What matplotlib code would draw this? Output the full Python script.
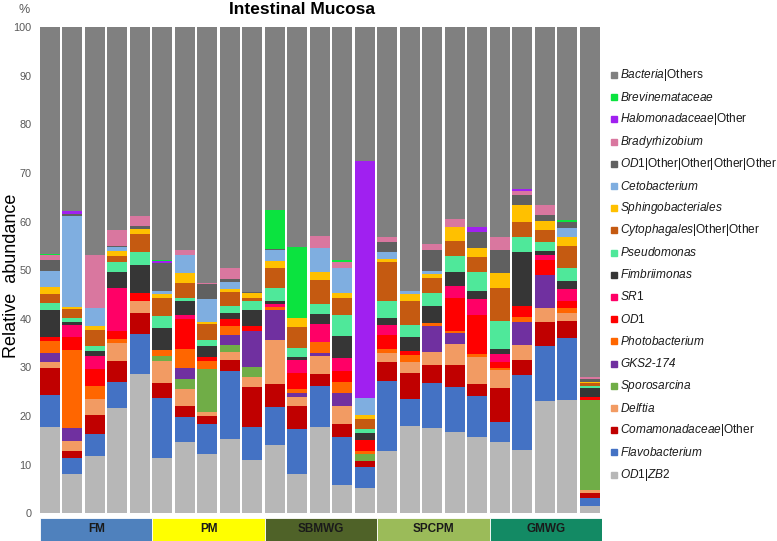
import numpy as np
import matplotlib
matplotlib.use("Agg")
import matplotlib.pyplot as plt
from matplotlib.patches import Rectangle

plt.rcParams["font.family"] = ["Liberation Sans", "DejaVu Sans"]
plt.rcParams["mathtext.fontset"] = "custom"
plt.rcParams["mathtext.rm"] = "Liberation Sans"
plt.rcParams["mathtext.it"] = "Liberation Sans:italic"

# groups of samples (5 per diet)
groups = ["FM", "PM", "SBMWG", "SPCPM", "GMWG"]
group_colors = ["#4F81BD", "#FFFF00", "#4F6228", "#9BBB59", "#138A64"]

# relative abundance (%) per sample, stacked from bottom to top
od1_zb2 = [17.7, 8.0, 11.7, 21.7, 28.7, 11.4, 14.7, 12.2, 15.3, 11.0, 14.0, 8.0, 17.7, 5.8, 5.2,
           12.9, 18.0, 17.6, 16.7, 15.7, 14.6, 13.1, 23.1, 23.4, 1.4]
flavobacterium = [6.7, 3.4, 4.6, 5.4, 8.2, 12.3, 5.1, 6.2, 13.9, 6.8, 7.8, 9.4, 8.5, 9.8, 4.4,
                  14.3, 5.5, 9.3, 9.2, 8.4, 4.2, 15.3, 11.4, 12.6, 1.8]
comamonadaceae = [5.4, 1.5, 3.9, 4.2, 4.3, 3.1, 2.3, 1.6, 2.4, 8.1, 4.9, 4.7, 2.4, 2.7, 1.1,
                  4.0, 5.4, 3.7, 4.7, 2.6, 6.9, 3.2, 4.9, 3.6, 0.9]
delftia = [1.4, 2.0, 3.3, 3.8, 2.4, 4.5, 3.4, 0.8, 1.6, 2.2, 9.0, 1.9, 3.7, 3.7, 0.0,
           1.8, 2.2, 2.6, 4.3, 5.4, 3.7, 3.0, 2.9, 1.7, 0.6]
sporosarcina = [0.0, 0.0, 0.0, 0.0, 0.0, 1.0, 2.1, 8.8, 1.4, 2.0, 0.0, 0.0, 0.0, 0.0, 1.5,
                0.0, 0.0, 0.0, 0.0, 0.0, 0.0, 0.0, 0.0, 0.0, 18.7]
gks2_174 = [1.7, 2.7, 0.0, 0.0, 0.0, 0.0, 2.2, 0.0, 2.1, 7.4, 6.2, 0.7, 0.6, 2.8, 0.0,
            0.0, 0.0, 5.3, 2.1, 0.0, 0.0, 4.7, 6.8, 0.0, 0.0]
photobacterium = [2.6, 16.0, 2.7, 0.8, 0.0, 1.3, 4.1, 1.7, 1.8, 0.0, 0.5, 0.8, 2.4, 2.3, 0.7,
                  0.9, 1.5, 0.7, 0.6, 0.7, 0.4, 1.1, 0.0, 1.0, 0.0]
od1 = [0.7, 2.6, 3.4, 1.6, 1.7, 0.0, 6.0, 0.8, 1.4, 1.1, 0.0, 3.3, 0.0, 2.1, 2.1,
       2.7, 0.7, 0.0, 6.8, 8.1, 1.4, 2.3, 3.1, 1.3, 0.6]
sr1 = [0.0, 2.5, 2.7, 8.8, 0.0, 0.0, 0.8, 0.0, 0.0, 0.0, 0.7, 2.8, 3.6, 2.7, 0.0,
       2.1, 0.0, 0.0, 2.4, 3.1, 1.6, 0.0, 0.9, 2.5, 0.0]
fimbriimonas = [5.7, 0.7, 1.0, 3.4, 5.7, 4.6, 2.9, 2.4, 1.3, 3.3, 0.6, 0.6, 2.1, 4.6, 1.6,
                1.5, 3.0, 3.4, 2.9, 1.8, 1.0, 11.0, 0.8, 1.6, 1.7]
pseudomonas = [1.4, 0.8, 1.2, 2.0, 2.8, 2.4, 0.8, 1.2, 1.5, 1.7, 2.7, 1.8, 2.0, 4.4, 0.7,
               3.5, 2.4, 2.7, 3.2, 3.9, 5.8, 3.1, 1.9, 2.8, 0.4]
cytophagales = [1.8, 1.9, 3.3, 1.2, 3.6, 3.8, 2.9, 3.2, 2.9, 0.7, 4.0, 4.3, 5.0, 3.5, 2.2,
                8.0, 4.9, 3.2, 3.2, 3.1, 6.8, 3.1, 2.4, 4.6, 0.7]
sphingobacteriales = [1.5, 0.3, 0.7, 1.0, 1.0, 0.7, 2.1, 0.5, 0.5, 1.0, 1.6, 1.9, 1.7, 0.9, 0.8,
                      0.7, 1.5, 0.8, 2.8, 1.7, 3.0, 3.6, 2.0, 1.8, 0.3]
cetobacterium = [3.2, 18.7, 3.7, 0.8, 0.0, 0.7, 3.8, 4.7, 1.4, 0.0, 2.1, 0.0, 4.8, 5.1, 3.5,
                 1.3, 0.7, 0.6, 0.0, 0.0, 0.0, 0.0, 0.0, 1.9, 0.0]
od1_other = [2.4, 0.4, 0.0, 0.2, 0.7, 5.6, 0.0, 3.0, 0.8, 0.3, 0.3, 0.0, 0.0, 0.0, 0.0,
             2.2, 0.0, 4.2, 0.0, 3.4, 4.7, 1.9, 1.1, 1.1, 0.6]
bradyrhizobium = [0.9, 0.0, 11.0, 3.3, 2.1, 0.0, 1.0, 0.3, 2.2, 0.0, 0.0, 0.0, 2.6, 1.4, 0.0,
                  1.0, 0.0, 1.3, 1.6, 0.0, 2.8, 1.0, 2.2, 0.0, 0.4]
halomonadaceae = [0.0, 0.6, 0.0, 0.0, 0.0, 0.6, 0.0, 0.0, 0.0, 0.0, 0.0, 0.0, 0.0, 0.0, 48.6,
                  0.0, 0.0, 0.0, 0.0, 1.0, 0.0, 0.4, 0.0, 0.0, 0.0]
brevinemataceae = [0.2, 0.0, 0.0, 0.0, 0.0, 0.2, 0.0, 0.0, 0.0, 0.0, 8.1, 14.5, 0.0, 0.3, 0.0,
                   0.0, 0.0, 0.0, 0.0, 0.0, 0.0, 0.0, 0.0, 0.4, 0.0]

series = [
    (od1_zb2, r"$\it{OD1|ZB2}$", "#B7B7B7"),
    (flavobacterium, r"$\it{Flavobacterium}$", "#4472C4"),
    (comamonadaceae, r"$\it{Comamonadaceae}$|Other", "#C00000"),
    (delftia, r"$\it{Delftia}$", "#F29B63"),
    (sporosarcina, r"$\it{Sporosarcina}$", "#70AD47"),
    (gks2_174, "GKS2-174", "#7030A0"),
    (photobacterium, r"$\it{Photobacterium}$", "#FF6600"),
    (od1, r"$\it{OD1}$", "#FF0000"),
    (sr1, r"$\it{SR1}$", "#FF0066"),
    (fimbriimonas, r"$\it{Fimbriimonas}$", "#363636"),
    (pseudomonas, r"$\it{Pseudomonas}$", "#4FE89A"),
    (cytophagales, r"$\it{Cytophagales}$|Other|Other", "#C55A11"),
    (sphingobacteriales, r"$\it{Sphingobacteriales}$", "#FFC000"),
    (cetobacterium, r"$\it{Cetobacterium}$", "#7FAEE0"),
    (od1_other, r"$\it{OD1}$|Other|Other|Other|Other", "#606060"),
    (bradyrhizobium, r"$\it{Bradyrhizobium}$", "#D9779F"),
    (halomonadaceae, r"$\it{Halomonadaceae}$|Other", "#A020F0"),
    (brevinemataceae, r"$\it{Brevinemataceae}$", "#0BE33F"),
]

values = np.array([s[0] for s in series])
bacteria_others = 100 - values.sum(axis=0)
series.append((list(bacteria_others), r"$\it{Bacteria}$|Others", "#808080"))

W, H = 777, 541
fig = plt.figure(figsize=(W / 100, H / 100), dpi=100)
ax = fig.add_axes([40 / W, 1 - 513.3 / H, 562 / W, (513.3 - 27.3) / H])

x = np.arange(len(od1_zb2))
bottom = np.zeros(len(x))
for vals, label, color in series:
    vals = np.asarray(vals, dtype=float)
    ax.bar(x, vals, bottom=bottom, width=0.89, color=color, linewidth=0)
    bottom += vals

ax.set_xlim(-0.445, len(x) - 0.445)
ax.set_ylim(0, 100)
ax.set_yticks(np.arange(0, 101, 10))
ax.set_xticks([])
ax.tick_params(axis="y", length=0, pad=6, labelsize=7.8, labelcolor="#595959")
for side in ax.spines.values():
    side.set_visible(False)

fig.text(24 / W, 1 - 10 / H, "%", fontsize=9, color="#595959", ha="center", va="center")
fig.text(12 / W, 1 - 276 / H, "Relative  abundance", rotation=90, fontsize=13,
         ha="center", va="center")
fig.text(302 / W, 1 - 9 / H, "Intestinal Mucosa", fontsize=12.5, fontweight="bold",
         ha="center", va="center")

# group band under the bars
band = fig.add_axes([40 / W, 1 - 541 / H, 562 / W, (541 - 517.5) / H])
band.set_xlim(ax.get_xlim())
band.set_ylim(0, 1)
lefts = np.arange(len(groups)) * 5 - 0.445
band.bar(lefts, 1, width=5, align="edge", color=group_colors, edgecolor="white", linewidth=0.6)
for left, name in zip(lefts, groups):
    band.text(left + 2.5, 0.5, name, ha="center", va="center", fontsize=8.5,
              fontweight="bold", color="#1a1a1a")
band.axis("off")

# legend, top entry is the top of the stack
for i, (vals, label, color) in enumerate(series[::-1]):
    y = 1 - (75 + i * 22.2) / H
    fig.add_artist(Rectangle((611 / W, y - 3 / H), 6 / W, 6 / H, color=color,
                             transform=fig.transFigure))
    style = "italic" if "$" not in label else "normal"
    fig.text(620 / W, y, label, fontsize=8.6, ha="left", va="center", fontstyle=style,
             color="#1a1a1a")

fig.savefig("out.png", dpi=100)
